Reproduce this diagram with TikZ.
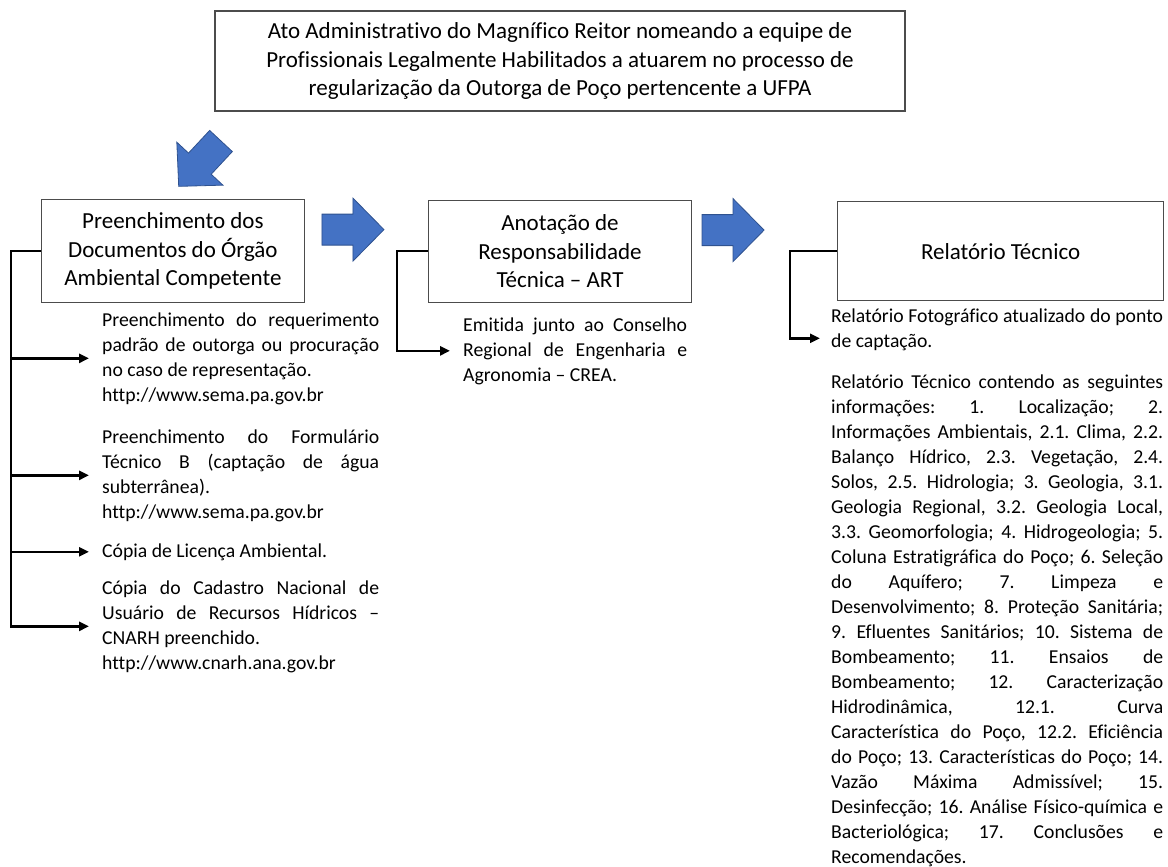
\documentclass[tikz,border=0pt]{standalone}
\usepackage{fontspec}
\setmainfont{Carlito}[Ligatures={TeX,NoCommon}]
\usetikzlibrary{arrows.meta}
\usetikzlibrary{positioning}

\definecolor{officeblue}{HTML}{4472C4}
\definecolor{officeedge}{HTML}{2F528F}
\newcommand{\boxtext}{\fontsize{23}{28.5}\selectfont}
\newcommand{\notetext}{\fontsize{19.7}{25}\selectfont\frenchspacing\tolerance=10000\hbadness=10000\hyphenpenalty=10000\exhyphenpenalty=10000}

\begin{document}
\begin{tikzpicture}[x=1pt,y=-1pt,
		box/.style={draw=black!70,line width=1.1pt,align=center,font=\boxtext,inner sep=0pt},
		note/.style={anchor=base west,inner sep=0pt,font=\notetext,align=justify},
		link/.style={line width=2.6pt,-{Triangle[length=10pt,width=9pt]},shorten >=13pt},
		blockarrow/.pic={\filldraw [fill=officeblue,draw=officeedge,line width=0.8pt]
			(0,-15.5) -- (31,-15.5) -- (31,-31.5) -- (62,0) -- (31,31.5) -- (31,15.5) -- (0,15.5) -- cycle;}]
		\useasboundingbox (0,0) rectangle (1168,867);

		% the three steps below the act
		\node [box,minimum width=690pt,minimum height=100pt] (act) at (560,61) {Ato Administrativo do Magnífico Reitor nomeando a equipe de\\Profissionais Legalmente Habilitados a atuarem no processo de\\regularização da Outorga de Poço pertencente a UFPA};
		\node [box,minimum width=263pt,minimum height=102pt,below=88pt of act] (art) {Anotação de\\Responsabilidade\\Técnica – ART};
		\node [box,minimum width=263pt,minimum height=103pt,left=123pt of art] (forms) {Preenchimento dos\\Documentos do Órgão\\Ambiental Competente};
		\node [box,minimum width=326pt,minimum height=99pt,right=145pt of art] (report) {Relatório Técnico};

		\pic [rotate=227] (go0) at (221,141) {blockarrow};
		\pic (go1) at ([xshift=17pt,yshift=21.5pt]forms.east) {blockarrow};
		\pic (go2) at ([xshift=10pt,yshift=21pt]art.east) {blockarrow};

		% documents
		\node [note,text width=277pt] (doc1) at (102,326) {Preenchimento do requerimento\linebreak padrão de outorga ou procuração\linebreak no caso de representação.\newline http://www.sema.pa.gov.br};
		\node [note,text width=277pt] (doc2) at (102,443) {Preenchimento do Formulário\linebreak Técnico B (captação de água\linebreak subterrânea).\newline http://www.sema.pa.gov.br};
		\node [note,text width=277pt] (doc3) at (102,557) {Cópia de Licença Ambiental.};
		\node [note,text width=277pt] (doc4) at (102,594) {Cópia do Cadastro Nacional de\linebreak Usuário de Recursos Hídricos –\linebreak CNARH preenchido.\newline http://www.cnarh.ana.gov.br};

		\node [note,text width=224pt] (crea) at (463,331) {Emitida junto ao Conselho\linebreak Regional de Engenharia e\linebreak Agronomia – CREA.};

		\node [note,text width=332pt] (foto) at (831,322) {Relatório Fotográfico atualizado do ponto\linebreak de captação.};
		\node [note,text width=332pt] (items) at (831,388) {Relatório Técnico contendo as seguintes\linebreak
			informações: 1. Localização; 2.\linebreak
			Informações Ambientais, 2.1. Clima, 2.2.\linebreak
			Balanço Hídrico, 2.3. Vegetação, 2.4.\linebreak
			Solos, 2.5. Hidrologia; 3. Geologia, 3.1.\linebreak
			Geologia Regional, 3.2. Geologia Local,\linebreak
			3.3. Geomorfologia; 4. Hidrogeologia; 5.\linebreak
			Coluna Estratigráfica do Poço; 6. Seleção\linebreak
			do Aquífero; 7. Limpeza e\linebreak
			Desenvolvimento; 8. Proteção Sanitária;\linebreak
			9. Efluentes Sanitários; 10. Sistema de\linebreak
			Bombeamento; 11. Ensaios de\linebreak
			Bombeamento; 12. Caracterização\linebreak
			Hidrodinâmica, 12.1. Curva\linebreak
			Característica do Poço, 12.2. Eficiência\linebreak
			do Poço; 13. Características do Poço; 14.\linebreak
			Vazão Máxima Admissível; 15.\linebreak
			Desinfecção; 16. Análise Físico-química e\linebreak
			Bacteriológica; 17. Conclusões e\linebreak
			Recomendações.};

		% connectors
		\coordinate [left=30pt of forms.west] (s1);
		\coordinate [left=31pt of art.west] (s2);
		\coordinate [left=47pt of report.west] (s3);
		\coordinate [yshift=-9pt] (fotoin) at (foto.west);

		\draw [link] (forms.west) -- (s1) |- (doc4.west);
		\foreach \d in {doc1,doc2,doc3}
			\draw [link] (s1 |- \d.west) -- (\d.west);
		\draw [link] (art.west) -- (s2) |- (crea.west);
		\draw [link,shorten >=11pt] (report.west) -- (s3) |- (fotoin);
	\end{tikzpicture}
\end{document}
